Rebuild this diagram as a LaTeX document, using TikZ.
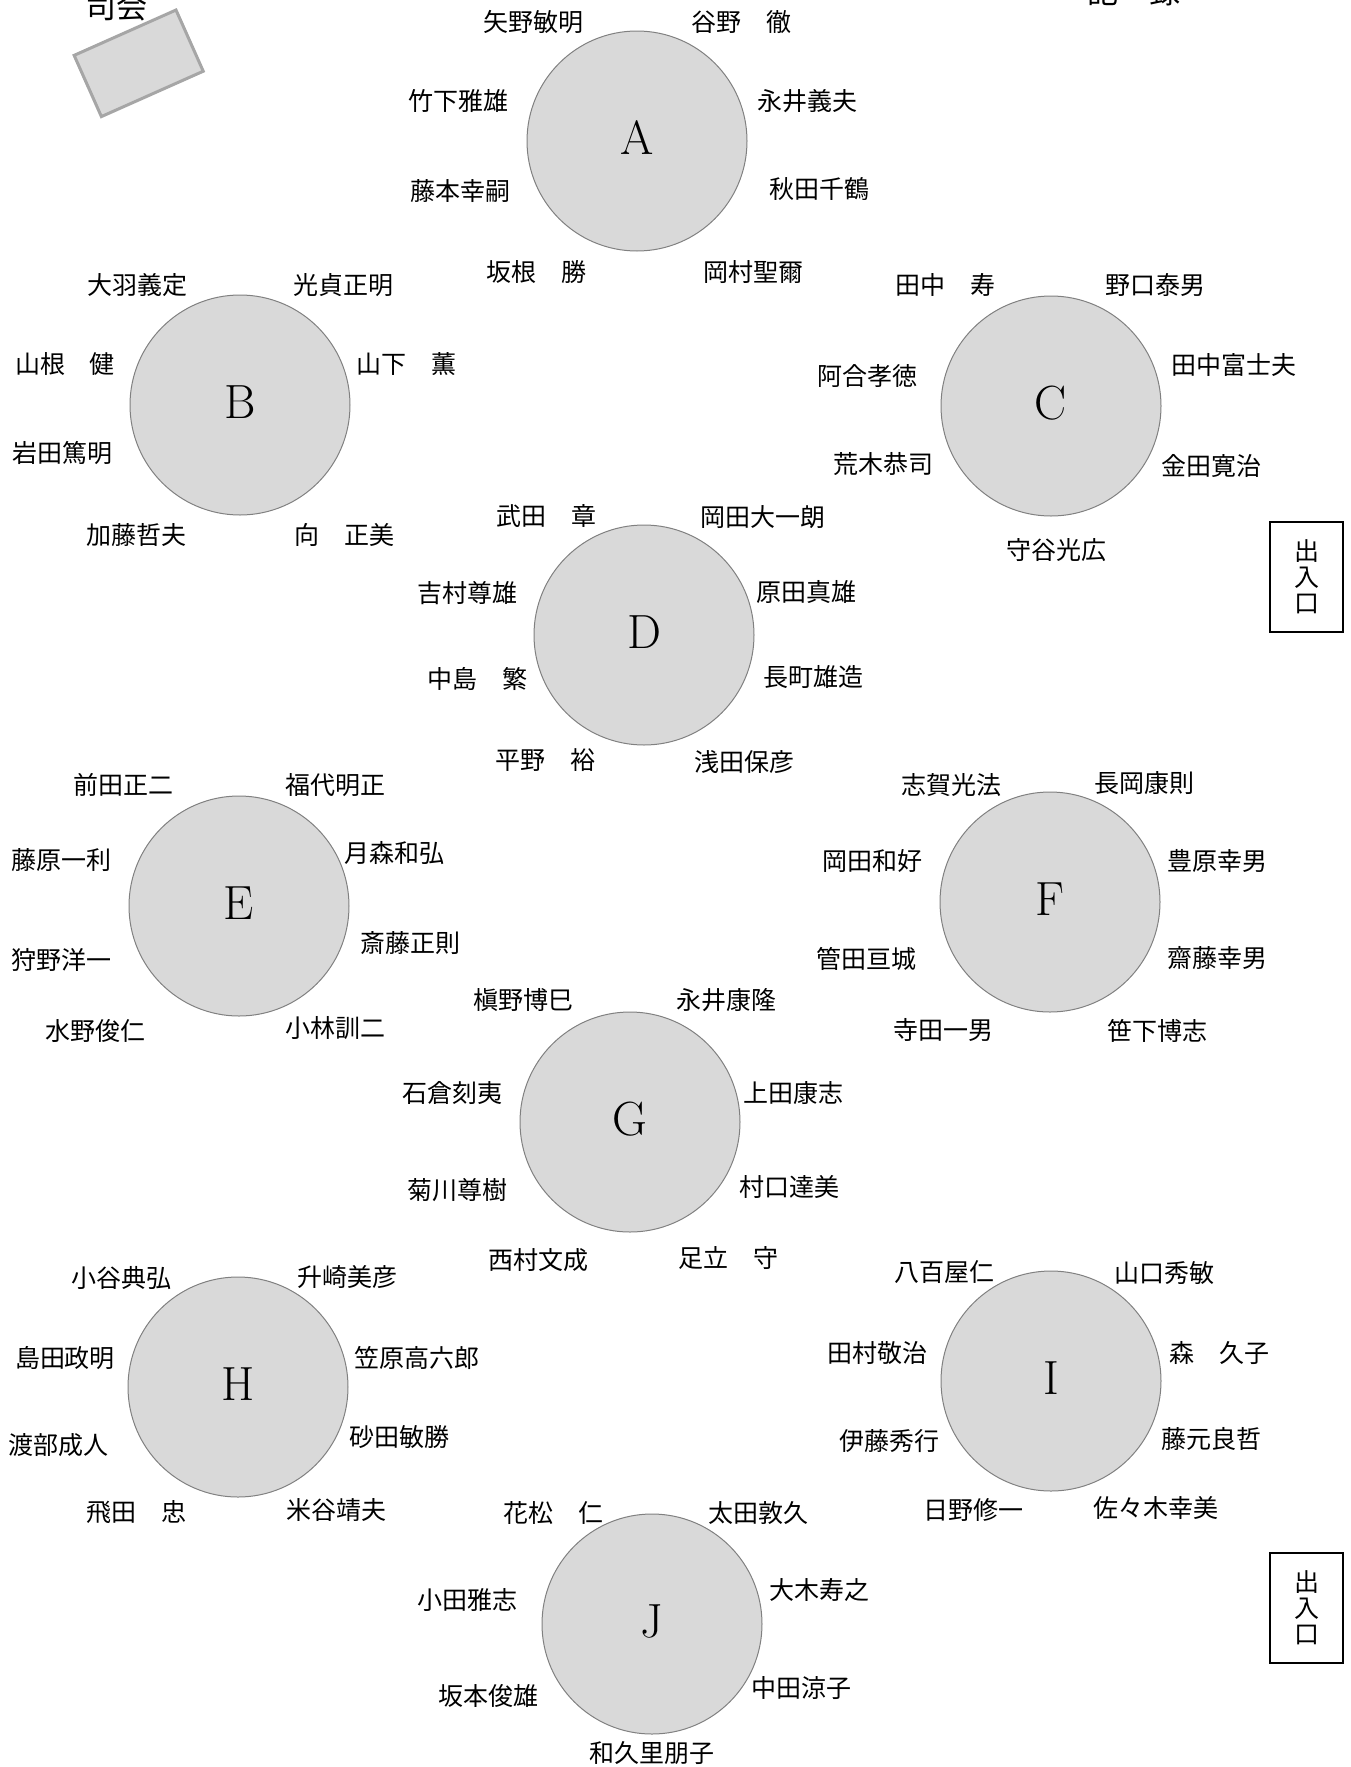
\documentclass[tikz,border=0pt]{standalone}
\usepackage{fontspec}
\newfontfamily\jp{Noto Sans CJK JP}
\definecolor{tablefill}{RGB}{217,217,217}
\definecolor{tableline}{RGB}{128,128,128}
\definecolor{deskline}{RGB}{166,166,166}
\tikzset{
  tbl/.style={circle, draw=tableline, fill=tablefill, line width=0.5pt, minimum size=110pt, inner sep=0pt, font=\fontsize{24}{28}\selectfont},
  lbl/.style={inner sep=0pt, font=\fontsize{24}{28}\selectfont, yshift=1.5pt},
  nm/.style={font=\jp\fontsize{12.5}{15}\selectfont, inner sep=0pt},
  desk/.style={draw=deskline, fill=tablefill, line width=1.5pt, minimum width=55.75pt, minimum height=33.5pt, inner sep=0pt},
  door/.style={draw=black, line width=0.9pt, minimum width=36.5pt, minimum height=55pt, inner sep=0pt, align=center, font=\jp\fontsize{12.5}{13}\selectfont},
  big/.style={font=\jp\fontsize{15.5}{18}\selectfont, inner sep=0pt},
}
\begin{document}
\begin{tikzpicture}[x=0.5pt,y=-0.5pt]
\useasboundingbox (0,0) rectangle (1350,1767);
% host desk
\node[desk, rotate=24] (desk) at (138.7,63.3) {};
\node[big] (host) at (116,7) {司会};
\node[big] (topr) at (1134,-8) {記　録};
% doors
\node[door] (door1) at (1306.7,577) {出\\入\\口};
\node[door] (door2) at (1306.7,1608) {出\\入\\口};
% tables
\node[tbl] (A) at (637,141) {};
\node[tbl] (B) at (240,405) {};
\node[tbl] (C) at (1051,406) {};
\node[tbl] (D) at (644,635) {};
\node[tbl] (E) at (239,906) {};
\node[tbl] (F) at (1050,902) {};
\node[tbl] (G) at (630,1122) {};
\node[tbl] (H) at (238,1387) {};
\node[tbl] (I) at (1051,1381) {};
\node[tbl] (J) at (652,1624) {};
\node[lbl] (Al) at (A.center) {A};
\node[lbl] (Bl) at (B.center) {B};
\node[lbl] (Cl) at (C.center) {C};
\node[lbl] (Dl) at (D.center) {D};
\node[lbl] (El) at (E.center) {E};
\node[lbl] (Fl) at (F.center) {F};
\node[lbl] (Gl) at (G.center) {G};
\node[lbl] (Hl) at (H.center) {H};
\node[lbl] (Il) at (I.center) {I};
\node[lbl] (Jl) at (J.center) {J};
% A
\node[nm] (a1) at (533,22) {矢野敏明};
\node[nm] (a2) at (741,22) {谷野　徹};
\node[nm] (a3) at (458,101) {竹下雅雄};
\node[nm] (a4) at (807,101) {永井義夫};
\node[nm] (a5) at (460,191) {藤本幸嗣};
\node[nm] (a6) at (819,189) {秋田千鶴};
\node[nm] (a7) at (536,272) {坂根　勝};
\node[nm] (a8) at (753,272) {岡村聖爾};
% B
\node[nm] (b1) at (137,285) {大羽義定};
\node[nm] (b2) at (343,285) {光貞正明};
\node[nm] (b3) at (65,364) {山根　健};
\node[nm] (b4) at (406,364) {山下　薫};
\node[nm] (b5) at (62,453) {岩田篤明};
\node[nm] (b6) at (136,535) {加藤哲夫};
\node[nm] (b7) at (344,535) {向　正美};
% C
\node[nm] (c1) at (945,285) {田中　寿};
\node[nm] (c2) at (1155,285) {野口泰男};
\node[nm] (c3) at (867,376) {阿合孝徳};
\node[nm] (c4) at (1234,365) {田中富士夫};
\node[nm] (c5) at (883,464) {荒木恭司};
\node[nm] (c6) at (1211,466) {金田寛治};
\node[nm] (c7) at (1056,550) {守谷光広};
% D
\node[nm] (d1) at (546,516) {武田　章};
\node[nm] (d2) at (763,517) {岡田大一朗};
\node[nm] (d3) at (467,593) {吉村尊雄};
\node[nm] (d4) at (806,592) {原田真雄};
\node[nm] (d5) at (477,679) {中島　繁};
\node[nm] (d6) at (813,677) {長町雄造};
\node[nm] (d7) at (545,760) {平野　裕};
\node[nm] (d8) at (744,762) {浅田保彦};
% E
\node[nm] (e1) at (123,785) {前田正二};
\node[nm] (e2) at (335,785) {福代明正};
\node[nm] (e3) at (61,860) {藤原一利};
\node[nm] (e4) at (394,853) {月森和弘};
\node[nm] (e5) at (410,943) {斎藤正則};
\node[nm] (e6) at (61,960) {狩野洋一};
\node[nm] (e7) at (95,1031) {水野俊仁};
\node[nm] (e8) at (335,1028) {小林訓二};
% F
\node[nm] (f1) at (951,785) {志賀光法};
\node[nm] (f2) at (1144,783) {長岡康則};
\node[nm] (f3) at (872,861) {岡田和好};
\node[nm] (f4) at (1217,861) {豊原幸男};
\node[nm] (f5) at (866,959) {管田亘城};
\node[nm] (f6) at (1217,958) {齋藤幸男};
\node[nm] (f7) at (943,1030) {寺田一男};
\node[nm] (f8) at (1157,1031) {笹下博志};
% G
\node[nm] (g1) at (523,1000) {槇野博巳};
\node[nm] (g2) at (726,1000) {永井康隆};
\node[nm] (g3) at (452,1093) {石倉刻夷};
\node[nm] (g4) at (793,1093) {上田康志};
\node[nm] (g5) at (457,1190) {菊川尊樹};
\node[nm] (g6) at (789,1187) {村口達美};
\node[nm] (g7) at (538,1260) {西村文成};
\node[nm] (g8) at (728,1258) {足立　守};
% H
\node[nm] (h1) at (121,1278) {小谷典弘};
\node[nm] (h2) at (347,1277) {升崎美彦};
\node[nm] (h3) at (65,1358) {島田政明};
\node[nm] (h4) at (417,1358) {笠原高六郎};
\node[nm] (h5) at (59,1445) {渡部成人};
\node[nm] (h6) at (399,1437) {砂田敏勝};
\node[nm] (h7) at (136,1512) {飛田　忠};
\node[nm] (h8) at (336,1510) {米谷靖夫};
% I
\node[nm] (i1) at (944,1272) {八百屋仁};
\node[nm] (i2) at (1164,1273) {山口秀敏};
\node[nm] (i3) at (877,1353) {田村敬治};
\node[nm] (i4) at (1219,1353) {森　久子};
\node[nm] (i5) at (889,1441) {伊藤秀行};
\node[nm] (i6) at (1211,1439) {藤元良哲};
\node[nm] (i7) at (973,1510) {日野修一};
\node[nm] (i8) at (1156,1508) {佐々木幸美};
% J
\node[nm] (j1) at (553,1513) {花松　仁};
\node[nm] (j2) at (758,1513) {太田敦久};
\node[nm] (j3) at (467,1600) {小田雅志};
\node[nm] (j4) at (819,1590) {大木寿之};
\node[nm] (j5) at (488,1696) {坂本俊雄};
\node[nm] (j6) at (801,1688) {中田涼子};
\node[nm] (j7) at (652,1753) {和久里朋子};
\end{tikzpicture}
\end{document}
